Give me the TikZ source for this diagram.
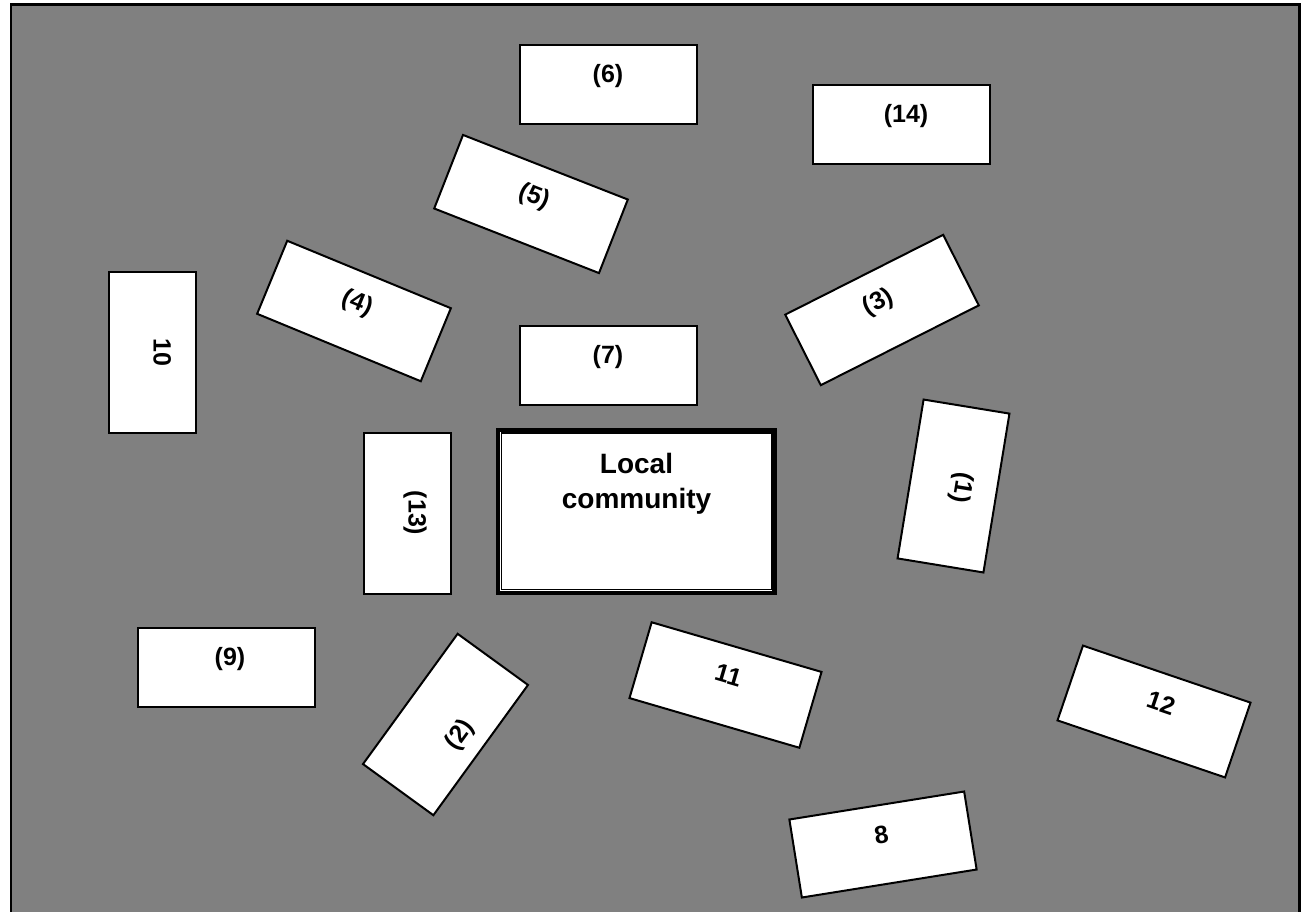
\documentclass[tikz,border=0pt]{standalone}
\usepackage{fontspec}
\setmainfont{Liberation Sans}
\begin{document}
\begin{tikzpicture}[x=1pt,y=-1pt,
  boxa/.style={draw, fill=white, line width=2pt, minimum width=177pt, minimum height=79pt, inner sep=0pt,
    text height=18pt, text depth=21pt, font=\fontsize{25}{29}\selectfont\bfseries},
  boxb/.style={boxa, minimum width=161pt, minimum height=87pt}]
\useasboundingbox (0,0) rectangle (1305,911);
\fill[white] (0,0) rectangle (1305,911);
% grey frame
\draw[fill=black!50, line width=2.5pt] (11,4.5) rectangle (1299.5,920);
% upright boxes
\node[boxa] (b6) at (608,84) {(6)};
\node[boxa] (b14) at (901,124) {\hspace*{10pt}(14)};
\node[boxa] (b7) at (608,365) {(7)};
\node[boxa] (b9) at (226,667) {\hspace*{8pt}(9)};
% tilted boxes
\node[boxa, rotate=-21.4] (b5) at (531,204) {(5)};
\node[boxa, rotate=-22.4] (b4) at (354,311) {(4)};
\node[boxa, rotate=26.8] (b3) at (882,310) {(3)};
\node[boxa, rotate=-16.3] (b11) at (725.5,685) {11};
\node[boxa, rotate=-18.8] (b12) at (1154,711.5) {\hspace*{8pt}12};
\node[boxa, rotate=9.1] (b8) at (883,844.5) {8};
% standing boxes
\node[boxb, rotate=-90] (b10) at (152,352) {10};
\node[boxb, rotate=-90] (b13) at (407,513) {(13)};
\node[boxb, rotate=-99.3] (b1) at (953.5,486) {(1)};
\node[boxb, rotate=54, text height=50pt, text depth=1.5pt] (b2) at (445.5,724.5) {(2)};
% centre
\node[draw, fill=white, line width=4.5pt, minimum width=276.5pt, minimum height=163pt, inner sep=0pt] (local) at (636.25,511.3) {};
\draw[line width=1.5pt] ([shift={(5.5,5.5)}]local.north west) rectangle ([shift={(-5.5,-5.5)}]local.south east);
\node[anchor=north, align=center, inner sep=0pt, font=\fontsize{28}{35}\selectfont\bfseries] (loctext) at (636.5,453) {Local\\community};
\end{tikzpicture}
\end{document}
